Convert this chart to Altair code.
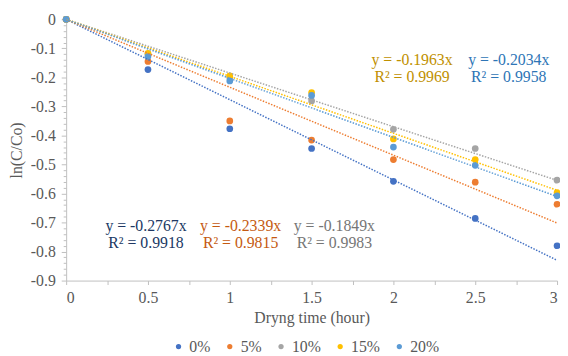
import altair as alt
import pandas as pd

times = [0, 0.5, 1, 1.5, 2, 2.5, 3]
series = ["0%", "5%", "10%", "15%", "20%"]
v_0 = [0, -0.173, -0.377, -0.445, -0.558, -0.686, -0.780]
v_5 = [0, -0.145, -0.350, -0.416, -0.483, -0.561, -0.637]
v_10 = [0, -0.120, -0.200, -0.281, -0.379, -0.445, -0.554]
v_15 = [0, -0.117, -0.195, -0.252, -0.412, -0.483, -0.597]
v_20 = [0, -0.128, -0.212, -0.262, -0.440, -0.503, -0.608]
values = [v_0, v_5, v_10, v_15, v_20]

slopes = [-0.2767, -0.2339, -0.1849, -0.1963, -0.2034]
r2 = ["0.9918", "0.9815", "0.9983", "0.9969", "0.9958"]
colors = ["#4472C4", "#ED7D31", "#A5A5A5", "#FFC000", "#5B9BD5"]
label_colors = ["#203864", "#C55A11", "#767676", "#BF9000", "#2E75B6"]
label_x = [0.488, 1.066, 1.639, 2.114, 2.705]
label_y1 = [-0.713, -0.713, -0.713, -0.140, -0.140]
label_y2 = [-0.772, -0.772, -0.772, -0.198, -0.198]

FONT = "Liberation Serif"
FS = 16

pts = pd.DataFrame(
    [{"t": t, "v": v, "s": s, "o": i} for i, (s, vs) in enumerate(zip(series, values)) for t, v in zip(times, vs)]
)
trend = pd.DataFrame(
    [{"t": t, "v": m * t, "s": s, "o": i} for i, (s, m) in enumerate(zip(series, slopes)) for t in (0, 3)]
)

xvals = [i * 0.25 for i in range(13)]
yvals = [round(-0.02 * i, 2) for i in range(46)]

xscale = alt.Scale(domain=[0, 3], nice=False, zero=False)
yscale = alt.Scale(domain=[-0.9, 0], nice=False)
cscale = alt.Scale(domain=series, range=colors)

xaxis = alt.Axis(
    values=xvals,
    labelExpr="abs(datum.value*2 - round(datum.value*2)) < 0.001 ? format(datum.value, '~g') : ''",
    tickSize=4,
    labelPadding=5,
    labelOverlap=False,
    title="Dryng time (hour)",
    titlePadding=5,
    grid=False,
)
yaxis = alt.Axis(
    values=yvals,
    labelExpr="abs(datum.value*10 - round(datum.value*10)) < 0.001 ? (datum.value == 0 ? '0' : '-' + format(-datum.value, '.1f')) : ''",
    tickSize={"condition": {"test": "abs(datum.value*10 - round(datum.value*10)) < 0.001", "value": 5}, "value": 3},
    labelPadding=6,
    labelOverlap=False,
    title="ln(C/Co)",
    titlePadding=6,
    grid=False,
)

legend = alt.Legend(
    title=None,
    orient="none",
    direction="horizontal",
    legendX=106,
    legendY=324,
    symbolType="circle",
    symbolSize=28,
    symbolStrokeWidth=0,
    labelFont=FONT,
    labelFontSize=FS,
    labelColor="#595959",
    columnPadding=11,
    gridAlign="none",
    labelOffset=3,
    padding=0,
)

X = alt.X("t:Q", scale=xscale, axis=xaxis)
Y = alt.Y("v:Q", scale=yscale, axis=yaxis)

points = alt.Chart(pts).mark_circle(size=46, opacity=1).encode(
    x=X,
    y=Y,
    color=alt.Color("s:N", scale=cscale, sort=series, legend=legend),
    order="o:Q",
)

lines = alt.Chart(trend).mark_line(strokeWidth=1.5, strokeDash=[1.5, 1.5]).encode(
    x=X,
    y=Y,
    color=alt.Color("s:N", scale=cscale, sort=series, legend=legend),
    detail="s:N",
)

texts = []
for i in range(len(series)):
    d = pd.DataFrame(
        {
            "t": [label_x[i], label_x[i]],
            "v": [label_y1[i], label_y2[i]],
            "txt": ["y = %.4fx" % slopes[i], "R\u00b2 = " + r2[i]],
        }
    )
    texts.append(
        alt.Chart(d).mark_text(font=FONT, fontSize=FS, color=label_colors[i], baseline="middle", align="center").encode(
            x=X, y=Y, text="txt:N"
        )
    )

chart = alt.layer(points, lines, *texts).properties(
    width=498,
    height=265,
    autosize=alt.AutoSizeParams(type="none"),
    padding={"left": 59, "top": 9, "right": 3, "bottom": 74},
).configure_view(stroke=None).configure_axis(
    labelFont=FONT,
    labelFontSize=FS,
    labelColor="#595959",
    labelOverlap=False,
    titleFont=FONT,
    titleFontSize=FS,
    titleFontWeight="normal",
    titleColor="#595959",
    domainColor="#BFBFBF",
    tickColor="#BFBFBF",
    domainWidth=1,
)

chart.save("out.html", embed_options={"renderer": "svg", "actions": False})
